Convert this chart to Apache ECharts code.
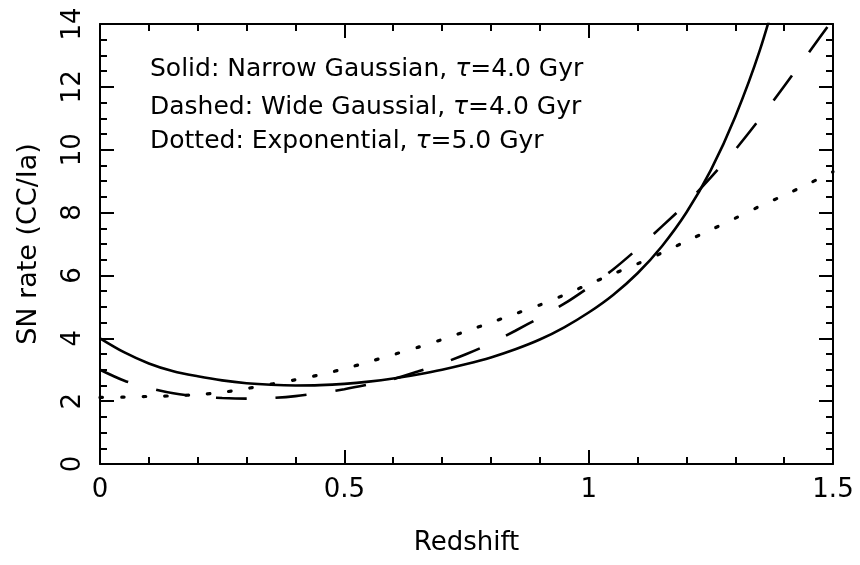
<!DOCTYPE html>
<html>
<head>
<meta charset="utf-8">
<script src="https://cdn.jsdelivr.net/npm/echarts@6/dist/echarts.min.js"></script>
<style>html,body{margin:0;padding:0;background:#fff}#c{width:860px;height:565px}</style>
</head>
<body>
<div id="c"></div>
<script>
var zSolid = [0,0.05,0.1,0.15,0.2,0.25,0.3,0.35,0.4,0.45,0.5,0.55,0.6,0.65,0.7,0.75,0.8,0.85,0.9,0.95,1.0,1.05,1.1,1.15,1.2,1.25,1.3,1.35,1.4];
var solidVals = [4.00,3.55,3.20,2.95,2.79,2.66,2.57,2.52,2.50,2.51,2.55,2.62,2.72,2.85,3.00,3.18,3.39,3.65,3.96,4.35,4.82,5.38,6.07,6.93,8.00,9.35,11.05,13.15,15.8];
var zDashed = [0,0.05,0.1,0.15,0.2,0.25,0.3,0.35,0.4,0.45,0.5,0.55,0.6,0.65,0.7,0.75,0.8,0.85,0.9,0.95,1.0,1.05,1.1,1.15,1.2,1.25,1.3,1.35,1.4,1.45,1.5];
var dashedVals = [3.00,2.65,2.42,2.25,2.15,2.10,2.08,2.10,2.16,2.26,2.38,2.53,2.70,2.94,3.20,3.50,3.84,4.24,4.66,5.10,5.62,6.19,6.85,7.56,8.29,9.12,10.00,10.98,12.02,13.08,14.15];
var zDotted = [0,0.05,0.1,0.15,0.2,0.25,0.3,0.35,0.4,0.45,0.5,0.55,0.6,0.65,0.7,0.75,0.8,0.85,0.9,0.95,1.0,1.05,1.1,1.15,1.2,1.25,1.3,1.35,1.4,1.45,1.5];
var dottedVals = [2.12,2.13,2.15,2.17,2.21,2.28,2.40,2.54,2.68,2.84,3.03,3.25,3.48,3.71,3.96,4.23,4.50,4.78,5.06,5.38,5.72,6.05,6.37,6.72,7.09,7.45,7.82,8.20,8.55,8.92,9.30];
var legendLines = [
  ['Solid: Narrow Gaussian, ', 'τ', '=4.0 Gyr'],
  ['Dashed: Wide Gaussial, ', 'τ', '=4.0 Gyr'],
  ['Dotted: Exponential, ', 'τ', '=5.0 Gyr']
];
var xTitle = 'Redshift';
var yTitle = 'SN rate (CC/Ia)';

function pairs(xs, ys){ return xs.map(function(x,i){ return [x, ys[i]]; }); }

var FONT = 'DejaVu Sans';
var tickStyle = {show:true, inside:true, length:14, lineStyle:{color:'#000', width:2}};
var minorStyle = function(n){ return {show:true, splitNumber:n, length:7, lineStyle:{color:'#000', width:2}}; };
var axisLine = {show:true, onZero:false, lineStyle:{color:'#000', width:2}};

var chart = echarts.init(document.getElementById('c'));
chart.setOption({
  animation:false,
  backgroundColor:'#fff',
  grid:{left:100, right:27, top:24, bottom:101},
  xAxis:[{
    type:'value', min:0, max:1.5, interval:0.5, position:'bottom',
    axisLine:axisLine, axisTick:tickStyle, minorTick:minorStyle(5), splitLine:{show:false},
    axisLabel:{color:'#000', fontFamily:FONT, fontSize:26, margin:13},
    name:xTitle, nameLocation:'middle', nameGap:66,
    nameTextStyle:{color:'#000', fontFamily:FONT, fontSize:26}
  },{
    type:'value', min:0, max:1.5, interval:0.5, position:'top',
    axisLine:axisLine, axisTick:tickStyle, minorTick:minorStyle(5), splitLine:{show:false},
    axisLabel:{show:false}
  }],
  yAxis:[{
    type:'value', min:0, max:14, interval:2, position:'left',
    axisLine:axisLine, axisTick:tickStyle, minorTick:minorStyle(4), splitLine:{show:false},
    axisLabel:{color:'#000', fontFamily:FONT, fontSize:26, margin:14, rotate:90},
    name:yTitle, nameLocation:'middle', nameGap:58,
    nameTextStyle:{color:'#000', fontFamily:FONT, fontSize:27}
  },{
    type:'value', min:0, max:14, interval:2, position:'right',
    axisLine:axisLine, axisTick:tickStyle, minorTick:minorStyle(4), splitLine:{show:false},
    axisLabel:{show:false}
  }],
  graphic: legendLines.map(function(l, i){
    return {
      type:'text', left:150, top:[57, 95, 129][i],
      style:{
        text:'{n|' + l[0] + '}{t|' + l[1] + '}{n|' + l[2] + '}',
        rich:{
          n:{fontFamily:FONT, fontSize:25, fill:'#000', color:'#000'},
          t:{fontFamily:FONT, fontSize:25, fontStyle:'italic', fill:'#000', color:'#000'}
        }
      }
    };
  }),
  series:[{
    type:'line', data:pairs(zSolid, solidVals), smooth:0.3, showSymbol:false, clip:true,
    lineStyle:{color:'#000', width:2.6, type:'solid'}
  },{
    type:'line', data:pairs(zDashed, dashedVals), smooth:0.3, showSymbol:false, clip:true,
    lineStyle:{color:'#000', width:2.6, type:[31, 29]}
  },{
    type:'line', data:pairs(zDotted, dottedVals), smooth:0.3, showSymbol:false, clip:true,
    lineStyle:{color:'#000', width:3.2, type:[2.5, 19], cap:'round'}
  }]
});
</script>
</body>
</html>
